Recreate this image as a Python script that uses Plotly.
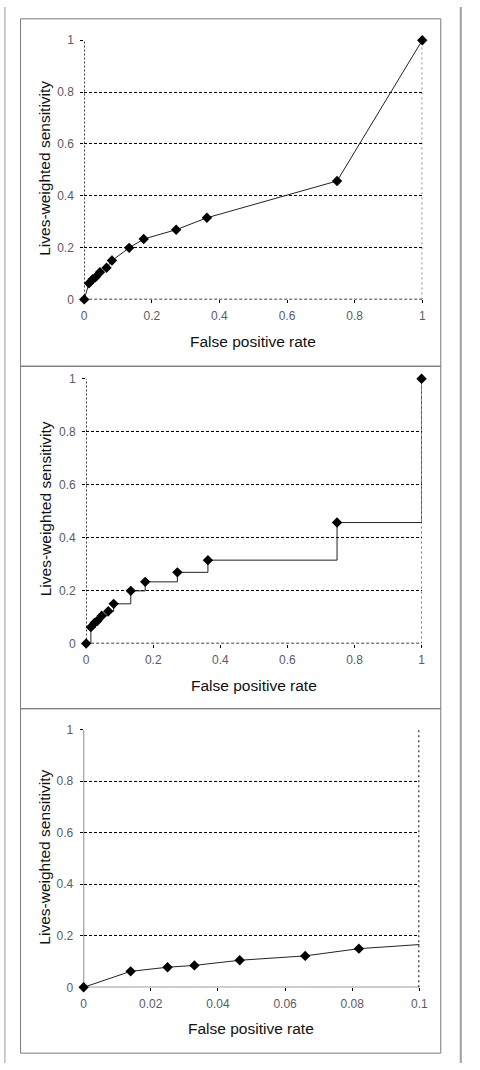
import plotly.graph_objects as go

# Data
fpr = [0, 0.014, 0.025, 0.033, 0.0465, 0.066, 0.082, 0.133, 0.176, 0.272, 0.363, 0.748, 1.0]
sens = [0, 0.062, 0.078, 0.085, 0.105, 0.122, 0.150, 0.199, 0.233, 0.269, 0.315, 0.457, 1.0]

y_ticks = [0, 0.2, 0.4, 0.6, 0.8, 1]
y_tick_text = ["0", "0.2", "0.4", "0.6", "0.8", "1"]
x_ticks_full = [0, 0.2, 0.4, 0.6, 0.8, 1]
x_text_full = ["0", "0.2", "0.4", "0.6", "0.8", "1"]
x_ticks_zoom = [0, 0.02, 0.04, 0.06, 0.08, 0.1]
x_text_zoom = ["0", "0.02", "0.04", "0.06", "0.08", "0.1"]
zoom_max = 0.1

x_title = "False positive rate"
y_title = "Lives-weighted sensitivity"

W, H = 480, 1070
FONT = "Liberation Sans, Arial, sans-serif"

def px(x):
    return x / W

def py(y):
    return 1 - y / H

fig = go.Figure()

# Panel 1: straight-line ROC
fig.add_trace(go.Scatter(x=fpr, y=sens, mode="lines+markers",
                         line=dict(color="#222222", width=1),
                         marker=dict(symbol="diamond", size=8, color="black"),
                         cliponaxis=False, xaxis="x", yaxis="y", showlegend=False))
# Panel 2: step ROC
fig.add_trace(go.Scatter(x=fpr, y=sens, mode="lines+markers",
                         line=dict(color="#222222", width=1, shape="hv"),
                         marker=dict(symbol="diamond", size=8, color="black"),
                         cliponaxis=False, xaxis="x2", yaxis="y2", showlegend=False))
# Panel 3: zoomed line (clipped) + markers within range
fig.add_trace(go.Scatter(x=fpr, y=sens, mode="lines",
                         line=dict(color="#222222", width=1),
                         cliponaxis=True, xaxis="x3", yaxis="y3", showlegend=False))
zx = [a for a in fpr if a <= zoom_max]
zy = [b for a, b in zip(fpr, sens) if a <= zoom_max]
fig.add_trace(go.Scatter(x=zx, y=zy, mode="markers",
                         marker=dict(symbol="diamond", size=8, color="black"),
                         cliponaxis=False, xaxis="x3", yaxis="y3", showlegend=False))

panels = [
    # (x0px, x1px, ytop px, ybot px, xmax, ticks, text)
    (83.3, 430.0, 33.7, 296.3, 1.0, x_ticks_full, x_text_full),
    (85.3, 429.3, 376.7, 645.0, 1.0, x_ticks_full, x_text_full),
    (82.7, 427.0, 732.3, 993.3, zoom_max, x_ticks_zoom, x_text_zoom),
]

layout = dict(width=W, height=H, margin=dict(l=0, r=0, t=0, b=0),
              paper_bgcolor="white", plot_bgcolor="white",
              font=dict(family=FONT, color="#555560"), showlegend=False)

shapes = []
annotations = []
for i, (x0, x1, yt, yb, xmax, xt, xtt) in enumerate(panels):
    sfx = "" if i == 0 else str(i + 1)
    layout["xaxis" + sfx] = dict(domain=[px(x0), px(x1)], range=[0, xmax],
                                 anchor="y" + sfx, tickvals=xt, ticktext=xtt,
                                 showgrid=False, zeroline=False, showline=False,
                                 ticks="outside", ticklen=3, tickcolor="black",
                                 ticklabelstandoff=2,
                                 tickfont=dict(size=12, color="#5a5a66"),
                                 fixedrange=True)
    layout["yaxis" + sfx] = dict(domain=[py(yb), py(yt)], range=[0, 1],
                                 anchor="x" + sfx, tickvals=y_ticks, ticktext=y_tick_text,
                                 showgrid=True, gridcolor="black", gridwidth=1,
                                 griddash="3px,2px", zeroline=False, showline=False,
                                 ticks="outside", ticklen=3, tickcolor="black",
                                 ticklabelstandoff=4,
                                 tickfont=dict(size=12, color="#5a5a66"),
                                 fixedrange=True)
    xr = "x" + sfx
    yr = "y" + sfx
    if i < 2:
        # dotted left, bottom, right borders
        shapes.append(dict(type="line", xref=xr, yref=yr, x0=0, x1=0, y0=0, y1=1,
                           line=dict(color="black", width=1.5, dash="2px,2px"), layer="between"))
        shapes.append(dict(type="line", xref=xr, yref=yr, x0=0, x1=xmax, y0=0, y1=0,
                           line=dict(color="black", width=1.5, dash="3px,2px"), layer="between"))
        shapes.append(dict(type="line", xref=xr, yref=yr, x0=xmax, x1=xmax, y0=0, y1=1,
                           line=dict(color="black", width=1, dash="2px,3px"), layer="between"))
    else:
        shapes.append(dict(type="line", xref=xr, yref=yr, x0=0, x1=0, y0=0, y1=1,
                           line=dict(color="black", width=1), layer="between"))
        shapes.append(dict(type="line", xref=xr, yref=yr, x0=0, x1=xmax, y0=0, y1=0,
                           line=dict(color="black", width=1), layer="between"))
        shapes.append(dict(type="line", xref=xr, yref=yr, x0=xmax, x1=xmax, y0=0, y1=1,
                           line=dict(color="black", width=2, dash="2px,3px"), layer="between"))

# Titles
x_title_pos = [(256, 339), (257, 688), (254, 1035)]
y_title_pos = [(43, 163), (43, 508), (43, 861)]
for (xx, yy) in x_title_pos:
    annotations.append(dict(text=x_title, x=px(xx), y=py(yy), xref="paper", yref="paper",
                            showarrow=False, xanchor="center", yanchor="middle",
                            font=dict(size=15.5, color="#111111", family=FONT)))
for (xx, yy) in y_title_pos:
    annotations.append(dict(text=y_title, x=px(xx), y=py(yy), xref="paper", yref="paper",
                            showarrow=False, xanchor="center", yanchor="middle", textangle=-90,
                            font=dict(size=15.5, color="#111111", family=FONT)))

# Panel frames
for (t, b) in [(12, 364), (364, 711), (711, 1060)]:
    shapes.append(dict(type="rect", xref="paper", yref="paper",
                       x0=px(18), x1=px(449), y0=py(b), y1=py(t),
                       line=dict(color="#7a7a7a", width=1), layer="above"))
# Page side lines
shapes.append(dict(type="line", xref="paper", yref="paper", x0=px(2), x1=px(2), y0=0, y1=1,
                   line=dict(color="#9a9a9a", width=1)))
shapes.append(dict(type="line", xref="paper", yref="paper", x0=px(469.5), x1=px(469.5), y0=0, y1=1,
                   line=dict(color="#a0a0a0", width=2)))

layout["shapes"] = shapes
layout["annotations"] = annotations
fig.update_layout(**layout)

fig.write_html("out.html")
